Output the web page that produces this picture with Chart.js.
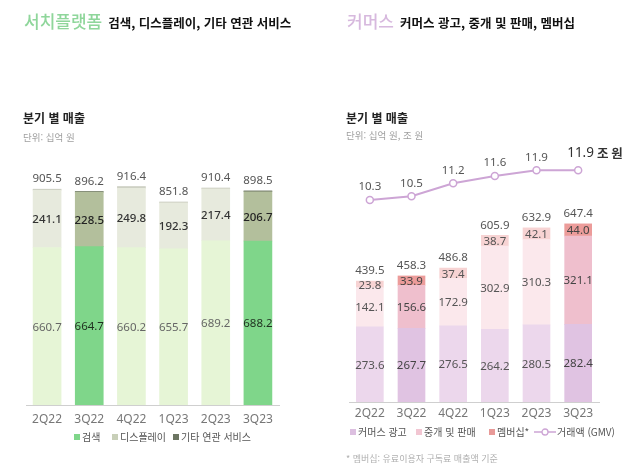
<!DOCTYPE html>
<html lang="ko">
<head>
<meta charset="utf-8">
<script src="https://cdn.jsdelivr.net/npm/chart.js@4.4.0/dist/chart.umd.min.js"></script>
<style>
  body { margin: 0; background: #fff; font-family: "Noto Sans CJK KR", "Noto Sans", sans-serif; }
  #wrap { position: relative; width: 640px; height: 475px; overflow: hidden; }
  canvas { position: absolute; top: 0; }
  .t { position: absolute; white-space: nowrap; line-height: 1; }
  .big { font-size: 17px; font-weight: 500; }
  .sub { font-size: 12.5px; font-weight: 700; color: #111; margin-left: 6px; }
  .h2 { font-size: 12px; font-weight: 700; color: #222; }
  .unit { font-size: 9.5px; color: #a0a0a0; }
  .lg { font-size: 10px; color: #555; display: flex; align-items: center; }
  .lg i { display: inline-block; width: 6px; height: 6px; margin-right: 2px; }
</style>
</head>
<body>
<div id="wrap">
  <canvas id="search" width="320" height="475" style="left:0"></canvas>
  <canvas id="commerce" width="320" height="475" style="left:320px"></canvas>

  <div class="t" style="left:24px;top:12px;display:flex;align-items:baseline">
    <span class="big" style="color:#8fd69b">서치플랫폼</span><span class="sub">검색, 디스플레이, 기타 연관 서비스</span>
  </div>
  <div class="t" style="left:347px;top:12px;display:flex;align-items:baseline">
    <span class="big" style="color:#d7b9de">커머스</span><span class="sub">커머스 광고, 중개 및 판매, 멤버십</span>
  </div>

  <div class="t h2" style="left:23px;top:112px">분기 별 매출</div>
  <div class="t unit" style="left:23px;top:133px">단위: 십억 원</div>
  <div class="t h2" style="left:346px;top:112px">분기 별 매출</div>
  <div class="t unit" style="left:346px;top:131px">단위: 십억 원, 조 원</div>

  <div class="t lg" style="left:74px;top:432px"><i style="background:#7fd68a"></i>검색</div>
  <div class="t lg" style="left:112px;top:432px"><i style="background:#c8cfb8"></i>디스플레이</div>
  <div class="t lg" style="left:173px;top:432px"><i style="background:#6c7562"></i>기타 연관 서비스</div>

  <div class="t lg" style="left:350px;top:427px"><i style="background:#dcbfe0"></i>커머스 광고</div>
  <div class="t lg" style="left:416px;top:427px"><i style="background:#f2c6d2"></i>중개 및 판매</div>
  <div class="t lg" style="left:489px;top:427px"><i style="background:#e89a98"></i>멤버십*</div>
  <div class="t lg" style="left:534px;top:427px"><svg width="22" height="8" style="margin-right:1px"><line x1="0" y1="4" x2="22" y2="4" stroke="#cda5d5" stroke-width="1.5"/><circle cx="11" cy="4" r="3" fill="#fff" stroke="#cda5d5" stroke-width="1.3"/></svg>거래액 (GMV)</div>

  <div class="t" style="left:346px;top:454px;font-size:9px;color:#b0b0b0">* 멤버십: 유료이용자 구독료 매출액 기준</div>
</div>

<script>
const quarters = ['2Q22', '3Q22', '4Q22', '1Q23', '2Q23', '3Q23'];
const highlight = [false, true, false, false, false, true];

// 서치플랫폼 (십억 원)
const searchRev = [660.7, 664.7, 660.2, 655.7, 689.2, 688.2];
const displayRev = [241.1, 228.5, 249.8, 192.3, 217.4, 206.7];
const otherRev = [3.7, 3.0, 6.4, 3.8, 3.8, 3.6];
const searchTotals = [905.5, 896.2, 916.4, 851.8, 910.4, 898.5];

// 커머스 (십억 원, 조 원)
const adRev = [273.6, 267.7, 276.5, 264.2, 280.5, 282.4];
const brokerRev = [142.1, 156.6, 172.9, 302.9, 310.3, 321.1];
const memberRev = [23.8, 33.9, 37.4, 38.7, 42.1, 44.0];
const commerceTotals = [439.5, 458.3, 486.8, 605.9, 632.9, 647.4];
const gmv = [10.3, 10.5, 11.2, 11.6, 11.9, 11.9];

const pick = (hi, lo) => highlight.map(h => h ? hi : lo);
const numFont = '11.5px "Noto Sans", sans-serif';

function xAxis(pad) {
  return {
    stacked: true,
    grid: { display: false, drawTicks: false },
    border: { display: true, color: '#cfcfcf', width: 1 },
    ticks: { color: '#777', font: { size: 12, family: '"Noto Sans", sans-serif' }, padding: pad },
    afterFit: s => { s.height = 26; }
  };
}

// values inside segments and totals on top
const barLabels = {
  id: 'barLabels',
  afterDatasetsDraw(chart, args, opts) {
    const ctx = chart.ctx;
    ctx.save();
    ctx.textAlign = 'center';
    ctx.textBaseline = 'middle';
    opts.inside.forEach(spec => {
      const meta = chart.getDatasetMeta(spec.ds);
      meta.data.forEach((el, i) => {
        const v = chart.data.datasets[spec.ds].data[i];
        ctx.font = spec.font || numFont;
        ctx.fillStyle = highlight[i] ? spec.hiColor : spec.color;
        ctx.fillText(v.toFixed(1), el.x, (el.y + el.base) / 2 + 1);
      });
    });
    const top = chart.getDatasetMeta(opts.topDs);
    top.data.forEach((el, i) => {
      ctx.font = numFont;
      ctx.fillStyle = '#555';
      ctx.fillText(opts.totals[i].toFixed(1), el.x, el.y - 10);
    });
    if (opts.lineDs !== undefined) {
      const lm = chart.getDatasetMeta(opts.lineDs);
      lm.data.forEach((pt, i) => {
        if (i === lm.data.length - 1) {
          ctx.textAlign = 'left';
          ctx.fillStyle = '#333';
          ctx.font = '13.5px "Noto Sans", sans-serif';
          ctx.fillText(gmv[i].toFixed(1), pt.x - 11, pt.y - 17);
          const w = ctx.measureText(gmv[i].toFixed(1)).width + 3;
          ctx.font = 'bold 12.5px "Noto Sans CJK KR", sans-serif';
          ctx.fillText('조 원', pt.x - 11 + w, pt.y - 17);
          ctx.textAlign = 'center';
        } else {
          ctx.font = numFont;
          ctx.fillStyle = '#555';
          ctx.fillText(gmv[i].toFixed(1), pt.x, pt.y - 13);
        }
      });
    }
    ctx.restore();
  }
};

new Chart(document.getElementById('search'), {
  type: 'bar',
  data: {
    labels: quarters,
    datasets: [
      { label: '검색', data: searchRev, backgroundColor: pick('#7fd68a', '#e6f5d6') },
      { label: '디스플레이', data: displayRev, backgroundColor: pick('#b3bf9c', '#e7eadd') },
      { label: '기타 연관 서비스', data: otherRev, backgroundColor: pick('#6c7562', '#c6c9bb') }
    ]
  },
  options: {
    responsive: false,
    animation: false,
    layout: { padding: { top: 150, bottom: 44, left: 26, right: 41 } },
    datasets: { bar: { barThickness: 28, borderWidth: 0 } },
    scales: {
      x: xAxis(7),
      y: { stacked: true, display: false, min: 0, max: 1070 }
    },
    plugins: {
      legend: { display: false },
      tooltip: { enabled: false },
      barLabels: {
        inside: [
          { ds: 0, color: '#666', hiColor: '#1f2f1f' },
          { ds: 1, color: '#333', hiColor: '#222', font: '500 11.5px "Noto Sans", sans-serif' }
        ],
        topDs: 2,
        totals: searchTotals
      }
    }
  },
  plugins: [barLabels]
});

new Chart(document.getElementById('commerce'), {
  type: 'bar',
  data: {
    labels: quarters,
    datasets: [
      { type: 'line', label: '거래액 (GMV)', data: gmv, yAxisID: 'y1', order: 0,
        borderColor: '#cda5d5', borderWidth: 2, pointRadius: 3.5, pointBorderWidth: 1.5,
        pointBackgroundColor: '#fff', pointBorderColor: '#cda5d5', tension: 0 },
      { label: '커머스 광고', data: adRev, order: 1, backgroundColor: pick('#e0c3e2', '#ecd7ec') },
      { label: '중개 및 판매', data: brokerRev, order: 1, backgroundColor: pick('#efbfcd', '#fbe8ec') },
      { label: '멤버십*', data: memberRev, order: 1, backgroundColor: pick('#ec9c9a', '#f7d3d3') }
    ]
  },
  options: {
    responsive: false,
    animation: false,
    layout: { padding: { top: 150, bottom: 47, left: 29, right: 41 } },
    datasets: { bar: { barThickness: 27, borderWidth: 0 } },
    scales: {
      x: xAxis(4),
      y: { stacked: true, display: false, min: 0, max: 916 },
      y1: { display: false, min: -0.62, max: 13.0 }
    },
    plugins: {
      legend: { display: false },
      tooltip: { enabled: false },
      barLabels: {
        inside: [
          { ds: 1, color: '#555', hiColor: '#444' },
          { ds: 2, color: '#555', hiColor: '#444' },
          { ds: 3, color: '#555', hiColor: '#444' }
        ],
        topDs: 3,
        totals: commerceTotals,
        lineDs: 0
      }
    }
  },
  plugins: [barLabels]
});
</script>
</body>
</html>
